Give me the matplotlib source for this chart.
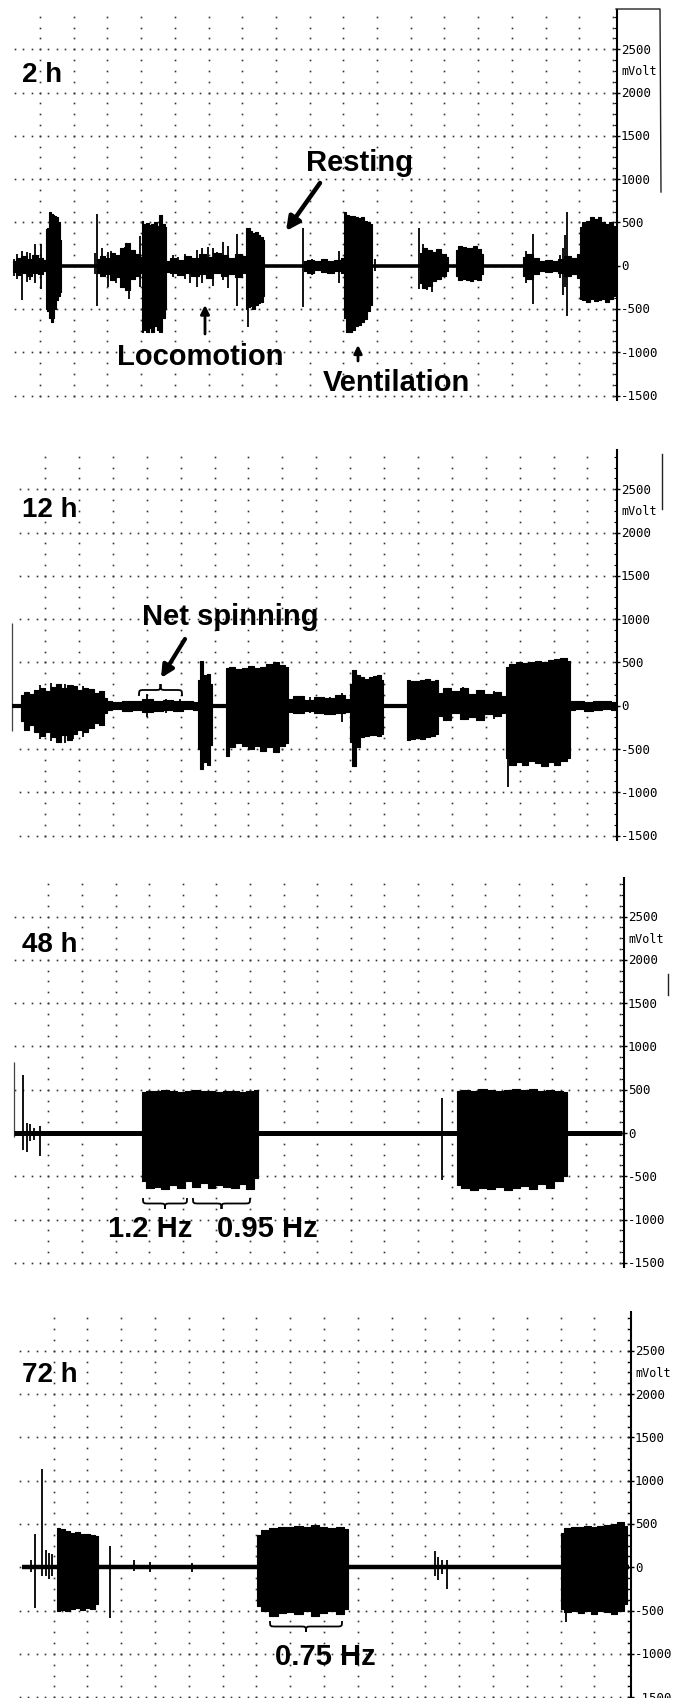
import numpy as np
import matplotlib.pyplot as plt
from matplotlib.path import Path
from matplotlib.patches import PathPatch, FancyArrowPatch
from matplotlib.lines import Line2D
from matplotlib.transforms import Affine2D, Bbox, TransformedBbox, blended_transform_factory

W, H = 691, 1699

# time in s (10 px per s on the chart paper), voltage in mV
# segments: (t_start, t_end, upper envelope, lower envelope)
# spikes: (t, top, bottom)

# ---- 2 h ----
P1_SEGMENTS = [
    (1.3, 4.6, [60, 90, 110, 80, 120, 90, 70], [-70, -110, -90, -120, -80, -100, -60]),
    (4.6, 6.1, [420, 430, 620, 600, 580, 570, 560, 500, 300],
     [-500, -520, -600, -650, -600, -500, -400, -350, -300]),
    (9.7, 14.2, [80, 110, 90, 150, 120, 200, 260, 180, 130, 100],
     [-90, -120, -100, -160, -130, -250, -280, -150, -120, -80]),
    (14.2, 16.6, [520, 480, 490, 470, 480, 500, 460, 590, 480, 450],
     [-760, -740, -770, -720, -760, -700, -740, -760, -600, -500]),
    (16.6, 24.6, [60, 90, 70, 110, 90, 130, 100, 150, 120, 90, 140, 110],
     [-70, -90, -110, -80, -120, -100, -140, -90, -120, -100, -130, -90]),
    (24.6, 26.4, [440, 430, 400, 380, 390, 360, 330, 300],
     [-500, -480, -470, -500, -450, -430, -420, -350]),
    (30.4, 34.4, [50, 70, 60, 80, 50, 70, 90], [-60, -80, -50, -70, -90, -60, -80]),
    (34.4, 37.2, [615, 580, 570, 575, 560, 550, 560, 520, 500, 480],
     [-600, -760, -770, -740, -700, -690, -650, -620, -520, -450]),
    (42.0, 44.8, [150, 200, 180, 160, 190, 140, 100], [-200, -260, -230, -180, -150, -120, -60]),
    (45.6, 48.3, [180, 230, 220, 200, 210, 230, 190, 140],
     [-120, -170, -150, -160, -180, -150, -170, -100]),
    (52.3, 58.0, [100, 140, 90, 60, 70, 50, 80, 110, 90, 130],
     [-120, -150, -100, -60, -70, -60, -80, -120, -100, -140]),
    (58.0, 61.5, [450, 500, 520, 560, 540, 560, 510, 480, 500, 460],
     [-380, -400, -420, -380, -410, -400, -390, -420, -380, -350]),
]
P1_SPIKES = [
    (1.4, 80, -120), (1.7, 130, -150), (2.2, 170, -400), (2.7, 160, -190), (3.0, 150, -160),
    (3.5, 250, -200), (4.1, 250, -270), (9.5, 150, -100), (9.7, 600, -460), (10.2, 200, -130),
    (10.8, 160, -250), (11.1, 170, -150), (11.6, 120, -200), (12.5, 220, -260), (12.9, 260, -380),
    (13.2, 180, -150), (14.0, 340, -250), (17.3, 120, -130), (17.8, 100, -90), (18.5, 130, -150),
    (19.0, 110, -200), (19.7, 180, -250), (20.2, 200, -200), (20.8, 220, -120), (21.3, 210, -230),
    (21.7, 160, -100), (22.3, 270, -160), (22.8, 230, -260), (23.7, 370, -460), (24.75, 440, -710),
    (30.3, 440, -480), (31.2, 80, -110), (33.9, 170, -200), (37.5, 80, -60), (41.9, 440, -270),
    (42.3, 250, -270), (42.7, 200, -280), (43.2, 170, -300), (52.6, 170, -200), (53.3, 370, -440),
    (56.0, 120, -140), (56.3, 200, -340), (56.5, 350, -250), (56.7, 620, -580),
]

# ---- 12 h ----
P2_SEGMENTS = [
    (2.1, 10.7, [120, 160, 140, 180, 200, 170, 220, 250, 200, 240, 230, 180, 210, 190, 150, 170, 90],
     [-180, -280, -220, -300, -350, -300, -360, -420, -340, -400, -330, -280, -300, -260, -200, -220, -90]),
    (10.7, 19.8, [50, 40, 60, 50, 80, 60, 70, 50, 60, 40], [-50, -40, -60, -50, -70, -60, -50, -60, -40, -50]),
    (19.8, 21.2, [300, 520, 350, 370, 250], [-500, -730, -650, -690, -450]),
    (22.6, 28.8, [430, 450, 420, 440, 460, 430, 450, 480, 500, 470, 450],
     [-580, -480, -430, -470, -500, -460, -520, -480, -540, -470, -430]),
    (28.8, 35.0, [80, 110, 70, 100, 90, 120, 80], [-70, -90, -60, -80, -100, -90, -70]),
    (35.0, 38.3, [250, 410, 360, 330, 310, 330, 340, 350, 300],
     [-420, -700, -480, -360, -350, -340, -340, -350, -330]),
    (40.7, 43.8, [300, 290, 280, 300, 310, 290, 300], [-400, -390, -370, -380, -360, -350, -330]),
    (43.9, 50.5, [150, 200, 170, 210, 140, 180, 130, 160, 110],
     [-120, -160, -90, -150, -130, -170, -100, -120, -90]),
    (50.6, 57.0, [450, 480, 500, 490, 510, 520, 500, 530, 540, 550, 520],
     [-600, -680, -650, -690, -640, -660, -700, -650, -680, -640, -600]),
    (57.0, 61.5, [50, 60, 40, 60, 50, 40], [-50, -40, -60, -50, -40, -50]),
]
P2_SPIKES = [
    (4.0, 240, -380), (5.1, 260, -410), (6.5, 250, -430), (7.3, 240, -390), (8.3, 230, -360),
    (14.7, 135, -135), (16.6, 80, -90), (18.0, 80, -70), (20.1, 520, -730), (20.8, 370, -690),
    (29.5, 110, -80), (31.0, 100, -90), (33.0, 100, -80), (34.2, 150, -190), (35.4, 410, -710),
    (44.9, 210, -170), (46.3, 220, -150), (49.4, 170, -150), (50.8, 400, -940),
]
P2_EDGE = (1.2, -290, 960)

# ---- 48 h ----
P3_SEGMENTS = [
    (14.2, 25.8, [470, 480, 490, 500, 480, 470, 490, 500, 480, 490, 470, 480, 490, 470, 485, 495],
     [-560, -640, -620, -650, -600, -640, -560, -620, -580, -640, -600, -620, -640, -590, -650, -520]),
    (45.7, 56.7, [480, 500, 490, 510, 500, 490, 500, 510, 495, 505, 480, 500, 490, 470],
     [-600, -640, -660, -630, -650, -620, -660, -640, -610, -650, -590, -640, -560, -500]),
]
P3_SPIKES = [
    (2.3, 670, -200), (2.7, 120, -220), (3.0, 100, -90), (3.4, 60, -80), (4.0, 80, -260),
    (44.2, 400, -540),
]
P3_EDGE = (1.4, -50, 820)

# ---- 72 h ----
P4_SEGMENTS = [
    (5.7, 9.8, [450, 440, 420, 400, 410, 380, 390, 370, 360],
     [-510, -490, -500, -480, -470, -490, -470, -480, -420]),
    (25.7, 34.8, [370, 430, 450, 460, 470, 480, 470, 485, 460, 450, 470, 440],
     [-450, -500, -560, -530, -520, -540, -510, -560, -530, -500, -540, -480]),
    (56.1, 62.7, [400, 450, 460, 470, 480, 460, 475, 490, 500, 520, 480],
     [-480, -520, -500, -530, -510, -540, -500, -520, -540, -500, -420]),
]
P4_SPIKES = [
    (3.1, 80, -60), (3.5, 390, -465), (4.2, 1130, -100), (4.6, 200, -100), (4.9, 170, -130),
    (5.2, 150, -100), (11.0, 250, -580), (13.4, 80, -40), (15.0, 60, -60), (19.2, 50, -60),
    (43.5, 190, -100), (43.8, 120, -150), (44.2, 80, -80), (44.7, 90, -245), (56.6, 300, -630),
]

LABELS = ['2 h', '12 h', '48 h', '72 h']
YTICKS = [2500, 2000, 1500, 1000, 500, 0, -500, -1000, -1500]

# layout in image pixels: zero line y, axis x, first paper column x, column step, trace start/end (s), baseline width
panels = [
    dict(seg=P1_SEGMENTS, spk=P1_SPIKES, edge=None, zero=266.7, axis=617, g0=40.0, gs=33.7, ts=1.3, te=61.6, blw=2.6),
    dict(seg=P2_SEGMENTS, spk=P2_SPIKES, edge=P2_EDGE, zero=706.7, axis=617, g0=45.0, gs=33.9, ts=1.2, te=61.5, blw=3.0),
    dict(seg=P3_SEGMENTS, spk=P3_SPIKES, edge=P3_EDGE, zero=1134.0, axis=624, g0=48.3, gs=33.6, ts=1.4, te=62.2, blw=3.6),
    dict(seg=P4_SEGMENTS, spk=P4_SPIKES, edge=None, zero=1568.3, axis=631, g0=53.5, gs=33.8, ts=2.2, te=62.9, blw=3.2),
]

PXMV = 0.0866
YLO, YHI = -1550, 2950

fig = plt.figure(figsize=(W / 100, H / 100), dpi=100)
IMG = Affine2D().scale(1 / W, -1 / H).translate(0, 1) + fig.transFigure

for p in panels:
    top_px = p['zero'] - YHI * PXMV
    bot_px = p['zero'] - YLO * PXMV
    ax = fig.add_axes([0, (H - bot_px) / H, p['axis'] / W, (bot_px - top_px) / H])
    tmax = p['axis'] / 10
    ax.set_xlim(0, tmax)
    ax.set_ylim(YLO, YHI)
    for s in ['left', 'top', 'bottom']:
        ax.spines[s].set_visible(False)
    ax.spines['right'].set_linewidth(1.5)
    ax.set_xticks([])
    ax.yaxis.tick_right()
    ax.set_yticks(YTICKS)
    ax.set_yticks(np.arange(-1500, 2876, 125), minor=True)
    ax.tick_params(axis='y', which='major', direction='inout', length=5, width=1, labelright=False)
    ax.tick_params(axis='y', which='minor', direction='in', length=2, width=0.8)
    ax.patch.set_alpha(0)

    # chart paper dots
    g0, gs = p['g0'] / 10, p['gs'] / 10
    cols = g0 + gs * np.arange(0, 20)
    cols = cols[cols < tmax - 0.25]
    cy = np.arange(-1500, 2876, 125)
    cx, cyy = np.meshgrid(cols, cy)
    ax.plot(cx.ravel(), cyy.ravel(), 's', ms=1.2, mew=0, color='#333333', zorder=1)
    rx = g0 + gs / 4 * np.arange(-4, 80)
    rx = rx[(rx > 1.2) & (rx < tmax - 0.2)]
    rxx, ryy = np.meshgrid(rx, np.arange(-1500, 2501, 500))
    ax.plot(rxx.ravel(), ryy.ravel(), 's', ms=1.2, mew=0, color='#333333', zorder=1)

    # trace
    ax.plot([p['ts'], p['te']], [0, 0], color='k', lw=p['blw'], solid_capstyle='butt', zorder=3)
    for t0, t1, tops, bots in p['seg']:
        x = np.linspace(t0, t1, len(tops))
        ax.fill_between(x, bots, tops, step='mid', color='k', lw=0.8, zorder=3)
    ts = [s[0] for s in p['spk']]
    ax.vlines(ts, [s[2] for s in p['spk']], [s[1] for s in p['spk']], color='k', lw=1.3, zorder=3)
    if p['edge']:
        ax.vlines(p['edge'][0], p['edge'][1], p['edge'][2], color='#444444', lw=0.9, zorder=2)

    # right-hand scale
    tr = blended_transform_factory(ax.transAxes, ax.transData)
    xo = 1 + 4 / p['axis']
    clip = TransformedBbox(Bbox([[0, max(H - bot_px, 0) / 100], [W / 100, H / 100]]), fig.dpi_scale_trans)
    for v in YTICKS:
        t = ax.text(xo, v, str(v), transform=tr, ha='left', va='center',
                    family='DejaVu Sans Mono', fontsize=9, clip_on=False)
        if v == -1500:
            t.set_clip_on(True)
            t.set_clip_box(clip)
    ax.text(xo, 2250, 'mVolt', transform=tr, ha='left', va='center',
            family='DejaVu Sans Mono', fontsize=8.5)

# scanning-frame remnants
for xs, ys in [([616, 660, 661], [10, 10, 193]), ([662, 662], [455, 510]), ([668, 668], [975, 996])]:
    fig.add_artist(Line2D(xs, ys, transform=IMG, color='#222222', lw=1))

TXT = dict(family=['Liberation Sans', 'DejaVu Sans'], weight='bold', color='k', transform=IMG, va='baseline')
for lab, (x, y) in zip(LABELS, [(22, 82), (22, 517), (22, 952), (22, 1382)]):
    fig.text(x, y, lab, fontsize=20, **TXT)

ANNOT = [('Resting', 306, 171), ('Locomotion', 117, 365), ('Ventilation', 323, 391),
         ('Net spinning', 142, 625), ('1.2 Hz', 108, 1237), ('0.95 Hz', 217, 1237),
         ('0.75 Hz', 275, 1665)]
for s, x, y in ANNOT:
    fig.text(x, y, s, fontsize=21, **TXT)

ARROWS = [((320, 184), (286, 232), 3.2, 20), ((205, 335), (205, 306), 2.0, 13),
          ((358, 362), (358, 346), 2.0, 12), ((185, 640), (161, 679), 3.0, 18)]
for a, b, lw, ms in ARROWS:
    fig.add_artist(FancyArrowPatch(a, b, transform=IMG, arrowstyle='-|>', mutation_scale=ms,
                                   lw=lw, color='k', shrinkA=0, shrinkB=0))


def brace(x0, x1, y_end, y_cusp):
    xm = (x0 + x1) / 2
    ym = (y_end + y_cusp) / 2
    r = min(6, (x1 - x0) / 6)
    verts = [(x0, y_end), (x0, ym), (x0, ym), (x0 + r, ym), (xm - r, ym),
             (xm, ym), (xm, ym), (xm, y_cusp), (xm, ym), (xm, ym), (xm + r, ym),
             (x1 - r, ym), (x1, ym), (x1, ym), (x1, y_end)]
    codes = [Path.MOVETO] + [Path.CURVE4] * 3 + [Path.LINETO] + [Path.CURVE4] * 6 + [Path.LINETO] + [Path.CURVE4] * 3
    fig.add_artist(PathPatch(Path(verts, codes), transform=IMG, fill=False, lw=1.3, color='k'))


brace(139, 182, 697, 685)
brace(143, 187, 1199, 1210)
brace(193, 250, 1199, 1210)
brace(270, 342, 1622, 1633)

fig.savefig('out.png', dpi=100)
